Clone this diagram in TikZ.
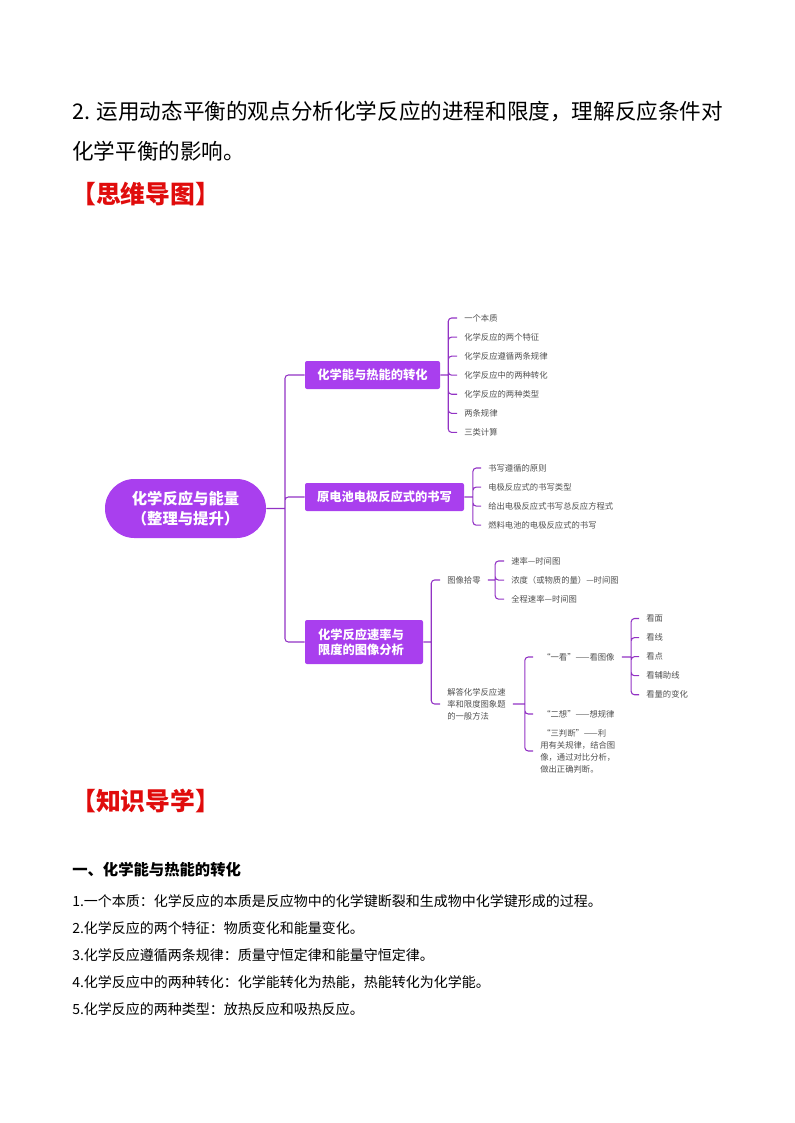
\documentclass[tikz,border=0pt]{standalone}
\usepackage{fontspec}
\setmainfont{Noto Sans CJK SC}
\usetikzlibrary{positioning}
\definecolor{mapfill}{HTML}{A93FEE}
\definecolor{mapline}{HTML}{9233C4}
\definecolor{leafgray}{HTML}{505050}
\definecolor{headred}{HTML}{E00C0C}

\begin{document}
\begin{tikzpicture}[x=0.75pt, y=-0.75pt, node distance=14.3pt,
			link/.style={draw=mapline, line width=0.8pt, rounded corners=2.5pt},
			rootbox/.style={fill=mapfill, text=white, rounded corners=22pt, align=center,
				minimum width=120.75pt, minimum height=44.25pt, inner sep=0pt,
				font=\fontsize{11.5pt}{14.5pt}\selectfont\bfseries},
			branchbox/.style={fill=mapfill, text=white, rounded corners=1.5pt, align=left,
				minimum height=21pt, inner sep=0pt,
				font=\fontsize{9.2pt}{11.5pt}\selectfont\bfseries},
			note/.style={anchor=west, inner ysep=0pt, inner xsep=5.25pt, text=leafgray, align=left,
				font=\fontsize{6.25pt}{9pt}\selectfont},
			leaf/.style={note, text height=5.4pt, text depth=0.8pt},
			intro/.style={anchor=west, inner sep=0pt, font=\fontsize{16.2pt}{16.2pt}\selectfont},
			headline/.style={anchor=west, inner sep=0pt, text=headred, font=\fontsize{18.6pt}{18.6pt}\selectfont\bfseries},
			sectionline/.style={anchor=west, inner sep=0pt, font=\fontsize{11.5pt}{12pt}\selectfont\bfseries},
			bodyline/.style={anchor=west, inner sep=0pt, font=\fontsize{10.5pt}{12pt}\selectfont} ]
			\useasboundingbox (0,0) rectangle (794,1123);

			% text above the map
			\node[intro]    (intro1) at (72,111)  {2. 运用动态平衡的观点分析化学反应的进程和限度，理解反应条件对};
			\node[intro]    (intro2) at (72,151)  {化学平衡的影响。};
			\node[headline] (head1)  at (71,194)  {【思维导图】};

			% map: root and branches
			\node[rootbox]                  (root) at (185.5,508.5) {化学反应与能量\\（整理与提升）};
			\node[branchbox, minimum width=101.25pt]  (b1) at (372.5,375) {化学能与热能的转化};
			\node[branchbox, minimum width=119.25pt]  (b2) at (384.5,497) {原电池电极反应式的书写};
			\node[branchbox, minimum height=33pt, inner xsep=9.75pt, text width=69pt] (b3) at (364,642) {化学反应速率与\\限度的图像分析};
			\coordinate (trunk) at (285,508.5);

			% first branch
			\coordinate[right=6pt of b1.east] (ba);
			\node[leaf] (a1) at (457,318)                  {一个本质};
			\node[leaf] (a2) [below=of a1.west,anchor=west] {化学反应的两个特征};
			\node[leaf] (a3) [below=of a2.west,anchor=west] {化学反应遵循两条规律};
			\node[leaf] (a4) [below=of a3.west,anchor=west] {化学反应中的两种转化};
			\node[leaf] (a5) [below=of a4.west,anchor=west] {化学反应的两种类型};
			\node[leaf] (a6) [below=of a5.west,anchor=west] {两条规律};
			\node[leaf] (a7) [below=of a6.west,anchor=west] {三类计算};

			% second branch
			\coordinate[right=6.5pt of b2.east] (bb);
			\node[leaf] (g1) at (481,468)                   {书写遵循的原则};
			\node[leaf] (g2) [below=of g1.west,anchor=west] {电极反应式的书写类型};
			\node[leaf] (g3) [below=of g2.west,anchor=west] {给出电极反应式书写总反应方程式};
			\node[leaf] (g4) [below=of g3.west,anchor=west] {燃料电池的电极反应式的书写};

			% third branch
			\coordinate[right=6pt of b3.east] (bc);
			\node[leaf] (c1) at (440,580)  {图像拾零};
			\node[note] (c2) at (440,704)  {解答化学反应速\\率和限度图象题\\的一般方法};
			\coordinate[right=5.5pt of c1.east] (cd);
			\coordinate[right=9pt of c2.east]   (ce);
			\node[leaf] (d1) at (504,561)                   {速率—时间图};
			\node[leaf] (d2) [below=of d1.west,anchor=west] {浓度（或物质的量）—时间图};
			\node[leaf] (d3) [below=of d2.west,anchor=west] {全程速率—时间图};
			\node[leaf] (e1) at (533,657)  {\hspace*{1.5pt}“一看”——看图像};
			\node[leaf] (e2) at (533,714)  {\hspace*{1.5pt}“二想”——想规律};
			\node[note] (e3) at (533,751)  {\hspace*{1.5pt}“三判断”——利\\用有关规律，结合图\\像，通过对比分析，\\做出正确判断。};
			\coordinate[right=7pt of e1.east] (ef);
			\node[leaf] (f1) at (639,618.5)                 {看面};
			\node[leaf] (f2) [below=of f1.west,anchor=west] {看线};
			\node[leaf] (f3) [below=of f2.west,anchor=west] {看点};
			\node[leaf] (f4) [below=of f3.west,anchor=west] {看辅助线};
			\node[leaf] (f5) [below=of f4.west,anchor=west] {看量的变化};

			%connectors
			\path[link]
			(root.east) -- (trunk)
			(trunk) |- (b1.west)
			(trunk) |- (b2.west)
			(trunk) |- (b3.west)
			(b1.east) -- (ba)  (ba) |- (a1.west)  (ba) |- (a2.west)  (ba) |- (a3.west)
			(ba) |- (a4.west)  (ba) |- (a5.west)  (ba) |- (a6.west)  (ba) |- (a7.west)
			(b2.east) -- (bb)  (bb) |- (g1.west)  (bb) |- (g2.west)  (bb) |- (g3.west)  (bb) |- (g4.west)
			(b3.east) -- (bc)  (bc) |- (c1.west)  (bc) |- (c2.west)
			(c1.east) -- (cd)  (cd) |- (d1.west)  (cd) |- (d2.west)  (cd) |- (d3.west)
			(c2.east) -- (ce)  (ce) |- (e1.west)  (ce) |- (e2.west)  (ce) |- (e3.west)
			(e1.east) -- (ef)  (ef) |- (f1.west)  (ef) |- (f2.west)  (ef) |- (f3.west)
			(ef) |- (f4.west)  (ef) |- (f5.west);

			% text below the map
			\node[headline]    (head2) at (71,801)  {【知识导学】};
			\node[sectionline] (sec1)  at (72,870)  {一、化学能与热能的转化};
			\node[bodyline]    (line1) at (72,901)  {1.一个本质：化学反应的本质是反应物中的化学键断裂和生成物中化学键形成的过程。};
			\node[bodyline]    (line2) at (72,928)  {2.化学反应的两个特征：物质变化和能量变化。};
			\node[bodyline]    (line3) at (72,955)  {3.化学反应遵循两条规律：质量守恒定律和能量守恒定律。};
			\node[bodyline]    (line4) at (72,982)  {4.化学反应中的两种转化：化学能转化为热能，热能转化为化学能。};
			\node[bodyline]    (line5) at (72,1009) {5.化学反应的两种类型：放热反应和吸热反应。};
		\end{tikzpicture}
\end{document}
